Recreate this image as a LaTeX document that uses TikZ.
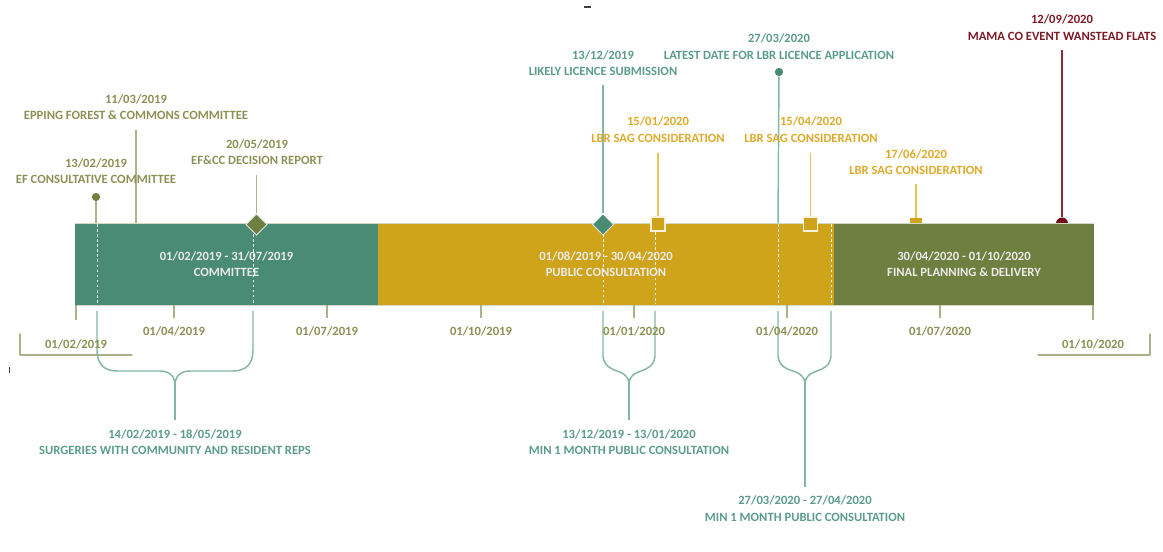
\documentclass[tikz,border=0pt]{standalone}
\usepackage{fontspec}
\setmainfont{Carlito}
\usetikzlibrary{shapes.geometric}
\definecolor{tealbar}{HTML}{4A8B75}
\definecolor{goldbar}{HTML}{CFA41B}
\definecolor{olivebar}{HTML}{6F7F3F}
\definecolor{redmark}{HTML}{6E0B14}
\definecolor{tealtxt}{HTML}{5B9C8A}
\definecolor{goldtxt}{HTML}{DDAA2C}
\definecolor{olivetxt}{HTML}{8B9155}
\definecolor{redtxt}{HTML}{7E1A26}
\definecolor{tealline}{HTML}{84B6A6}
\definecolor{goldline}{HTML}{E8C355}
\definecolor{oliveline}{HTML}{A9B288}
\definecolor{redline}{HTML}{8C2A3A}
\tikzset{
  x=0.75pt,y=-0.75pt,
  lab/.style={font=\fontsize{9.45}{12.4}\selectfont\bfseries,align=center,inner sep=0pt},
  barbox/.style={lab,minimum height=61pt,inner sep=0pt,text=white!92!black,draw=none},
  tealtext/.style={lab,text=tealtxt},
  goldtext/.style={lab,text=goldtxt},
  olivetext/.style={lab,text=olivetxt},
  redtext/.style={lab,text=redtxt},
  oliveconn/.style={draw=oliveline,line width=1.1pt},
  tealconn/.style={draw=tealline,line width=1.1pt},
  goldconn/.style={draw=goldline,line width=1.0pt},
  redconn/.style={draw=redline,line width=1.0pt},
  dashconn/.style={draw=white!80!tealline,line width=0.6pt,dash pattern=on 2pt off 1.8pt},
  dotmark/.style={circle,inner sep=0pt,minimum size=6.2pt},
  diamark/.style={diamond,aspect=1,inner sep=0pt,minimum size=16pt,draw=white!80!tealbar,line width=0.7pt},
  squaremark/.style={rectangle,inner sep=0pt,minimum size=10.5pt,fill=goldbar,draw=white!85!goldbar,line width=0.8pt},
}
\begin{document}
\begin{tikzpicture}
\useasboundingbox (0,0) rectangle (1163,552);
% artefacts
\fill[black!75] (584,6.5) rectangle (591,7.6);
\fill[black!75] (9,367) rectangle (10,373);

% markers behind the bar
\node[circle,fill=redmark,inner sep=0pt,minimum size=9pt] (mRed) at (1062,223.5) {};
\node[rectangle,fill=goldbar,inner sep=0pt,minimum width=9pt,minimum height=9pt] (mSagC) at (916,224) {};

% bars
\node[barbox,fill=tealbar,minimum width=227.25pt] (barA) at (226.5,264.25) {01/02/2019 - 31/07/2019\\COMMITTEE};
\node[barbox,fill=goldbar,minimum width=342pt] (barB) at (606,264.25) {01/08/2019 - 30/04/2020\\PUBLIC CONSULTATION};
\node[barbox,fill=olivebar,minimum width=195pt] (barC) at (964,264.25) {30/04/2020 - 01/10/2020\\FINAL PLANNING \& DELIVERY};
\draw[white!70!olivebar,line width=0.5pt] (75,223.5) -- (1094,223.5);
\draw[white!70!olivebar,line width=0.7pt] (75,305) -- (1094,305);

% axis ticks
\foreach \nm/\xx/\tk in {a/76/320,b/174/318,c/327/318,d/481/318,e/634/318,f/787/318,g/940/318,h/1093/320}{
  \coordinate (t\nm u) at (\xx,305);
  \coordinate (t\nm d) at (\xx,\tk);
  \draw[oliveconn] (t\nm u) -- (t\nm d);
}
\coordinate (bl1) at (20,334); \coordinate (bl2) at (20,355); \coordinate (bl3) at (132,355);
\coordinate (br1) at (1150,334); \coordinate (br2) at (1150,355); \coordinate (br3) at (1038,355);
\draw[oliveconn,line cap=round,line join=round] (bl1) -- (bl2) -- (bl3);
\draw[oliveconn,line cap=round,line join=round] (br1) -- (br2) -- (br3);

% stems: upper connectors
\coordinate (sEpA) at (136,130); \coordinate (sEpB) at (136,223);
\draw[oliveconn] (sEpA) -- (sEpB);
\node[dotmark,fill=olivebar] (mEf) at (96,197) {};
\coordinate (sEfB) at (96,223);
\draw[oliveconn] (mEf) -- (sEfB);
\coordinate (sDr) at (256.5,175);
\node[diamark,fill=olivebar] (mDr) at (256.5,224.5) {};
\draw[oliveconn] (sDr) -- (mDr);
\coordinate (sLk) at (603,85);
\node[diamark,fill=tealbar] (mLk) at (603,224.5) {};
\draw[tealconn] (sLk) -- (mLk);
\node[dotmark,fill=tealbar] (mLt) at (779,72) {};
\coordinate (sLtB) at (778,223.5);
\draw[tealconn] (mLt) -- (sLtB);
\coordinate (sSa) at (658,153);
\node[squaremark] (mSagA) at (658,224) {};
\draw[goldconn] (sSa) -- (mSagA);
\coordinate (sSb) at (810.5,153);
\node[squaremark] (mSagB) at (810.5,224) {};
\draw[goldconn] (sSb) -- (mSagB);
\coordinate (sSc) at (916,184);
\draw[goldconn] (sSc) -- (mSagC);
\coordinate (sRd) at (1062,50);
\draw[redconn] (sRd) -- (mRed);

% dashed guides inside the bar
\foreach \nm/\xx/\tp in {p/97/224,q/253/234,r/603/234,s/655/232,t/778/224,u/831/224}{
  \coordinate (g\nm t) at (\xx,\tp);
  \coordinate (g\nm b) at (\xx,304);
  \draw[dashconn] (g\nm t) -- (g\nm b);
}

% braces
\coordinate (jA) at (175,385); \coordinate (eA) at (175,420);
\coordinate (jB) at (629,384); \coordinate (eB) at (629,420);
\coordinate (jC) at (805,384); \coordinate (eC) at (805,487);
\draw[tealconn] (97,311) -- (97,350) .. controls (97,364) and (104,371) .. (117,371)
  -- (160,371) .. controls (169,371) and (175,376) .. (jA);
\draw[tealconn] (253,311) -- (253,350) .. controls (253,364) and (246,371) .. (233,371)
  -- (190,371) .. controls (181,371) and (175,376) .. (jA);
\draw[tealconn] (jA) -- (eA);
\draw[tealconn] (603,311) -- (603,356) .. controls (604,366) and (611,369) .. (617,371)
  .. controls (624,373) and (629,377) .. (jB);
\draw[tealconn] (655,311) -- (655,356) .. controls (654,366) and (647,369) .. (641,371)
  .. controls (634,373) and (629,377) .. (jB);
\draw[tealconn] (jB) -- (eB);
\draw[tealconn] (778,311) -- (778,356) .. controls (779,366) and (786,369) .. (793,371)
  .. controls (800,373) and (805,377) .. (jC);
\draw[tealconn] (831,311) -- (831,356) .. controls (830,366) and (823,369) .. (817,371)
  .. controls (810,373) and (805,377) .. (jC);
\draw[tealconn] (jC) -- (eC);

% axis text
\node[olivetext] (la) at (76,344) {01/02/2019};
\node[olivetext] (lb) at (174,331) {01/04/2019};
\node[olivetext] (lc) at (327,331) {01/07/2019};
\node[olivetext] (ld) at (481,331) {01/10/2019};
\node[olivetext] (le) at (634,331) {01/01/2020};
\node[olivetext] (lf) at (787,331) {01/04/2020};
\node[olivetext] (lg) at (940,331) {01/07/2020};
\node[olivetext] (lh) at (1093,344) {01/10/2020};

% event labels
\node[olivetext] (tEp) at (136,107) {11/03/2019\\EPPING FOREST \& COMMONS COMMITTEE};
\node[olivetext] (tEf) at (96,171) {13/02/2019\\EF CONSULTATIVE COMMITTEE};
\node[olivetext] (tDr) at (257,152) {20/05/2019\\EF\&CC DECISION REPORT};
\node[tealtext] (tLk) at (603,63) {13/12/2019\\LIKELY LICENCE SUBMISSION};
\node[tealtext] (tLt) at (779,46.5) {27/03/2020\\LATEST DATE FOR LBR LICENCE APPLICATION};
\node[goldtext] (tSa) at (658,129.5) {15/01/2020\\LBR SAG CONSIDERATION};
\node[goldtext] (tSb) at (811,129.5) {15/04/2020\\LBR SAG CONSIDERATION};
\node[goldtext] (tSc) at (916,162) {17/06/2020\\LBR SAG CONSIDERATION};
\node[redtext] (tRd) at (1062,27.5) {12/09/2020\\MAMA CO EVENT WANSTEAD FLATS};
\node[tealtext] (tBa) at (175,442) {14/02/2019 - 18/05/2019\\SURGERIES WITH COMMUNITY AND RESIDENT REPS};
\node[tealtext] (tBb) at (629,442) {13/12/2019 - 13/01/2020\\MIN 1 MONTH PUBLIC CONSULTATION};
\node[tealtext] (tBc) at (805,508.5) {27/03/2020 - 27/04/2020\\MIN 1 MONTH PUBLIC CONSULTATION};
\end{tikzpicture}
\end{document}
